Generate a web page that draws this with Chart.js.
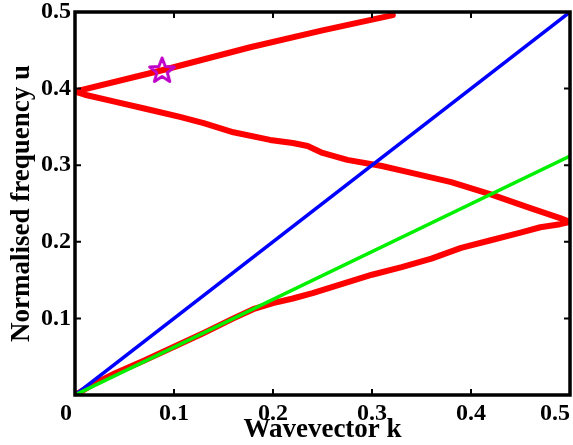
<!DOCTYPE html>
<html>
<head>
<meta charset="utf-8">
<script src="https://cdn.jsdelivr.net/npm/chart.js@4.4.1/dist/chart.umd.min.js"></script>
<style>
  body { margin: 0; background: #fff; }
  canvas { display: block; }
</style>
</head>
<body>
<canvas id="bandChart" width="573" height="445"></canvas>
<script>
// dispersion curve (red): lower branch, back along upper branch, then up again
const redK = [0, 0.02, 0.04, 0.07, 0.10, 0.13, 0.16, 0.18, 0.20, 0.22, 0.24, 0.27, 0.30, 0.33, 0.36, 0.39, 0.42, 0.45, 0.47, 0.49, 0.50,
              0.49, 0.46, 0.42, 0.38, 0.34, 0.31, 0.275, 0.25, 0.235, 0.22, 0.197, 0.16, 0.13, 0.106, 0.07, 0.04, 0.01, 0,
              0.088, 0.177, 0.25, 0.321];
const redU = [0, 0.015, 0.028, 0.045, 0.063, 0.081, 0.100, 0.112, 0.120, 0.126, 0.133, 0.145, 0.157, 0.167, 0.178, 0.192, 0.202, 0.212, 0.219, 0.223, 0.226,
              0.231, 0.244, 0.262, 0.278, 0.290, 0.299, 0.307, 0.316, 0.325, 0.329, 0.333, 0.343, 0.355, 0.363, 0.374, 0.383, 0.392, 0.396,
              0.424, 0.454, 0.476, 0.496];

// light lines
const blueK = [0, 0.5];
const blueU = [0, 0.5];
const greenK = [0, 0.5];
const greenU = [0, 0.312];

// marked point
const starK = [0.088];
const starU = [0.423];

const tickValues = [0, 0.1, 0.2, 0.3, 0.4, 0.5];

const toPoints = (ks, us) => ks.map((k, i) => ({ x: k, y: us[i] }));

// 5-point star outline for the marker
function makeStar() {
  const c = document.createElement('canvas');
  c.width = 34; c.height = 34;
  const g = c.getContext('2d');
  g.beginPath();
  for (let i = 0; i < 10; i++) {
    const r = i % 2 === 0 ? 13 : 5.5;
    const a = -Math.PI / 2 + i * Math.PI / 5;
    const px = 17 + r * Math.cos(a), py = 17 + r * Math.sin(a);
    if (i === 0) g.moveTo(px, py); else g.lineTo(px, py);
  }
  g.closePath();
  g.strokeStyle = '#c000c8';
  g.lineWidth = 3;
  g.lineJoin = 'round';
  g.stroke();
  return c;
}

// box round the plot with inward tick marks
const framePlugin = {
  id: 'frame',
  afterDraw(chart) {
    const { ctx, chartArea: a, scales } = chart;
    ctx.save();
    ctx.strokeStyle = '#000';
    ctx.lineWidth = 2;
    tickValues.forEach(v => {
      const px = scales.x.getPixelForValue(v);
      const py = scales.y.getPixelForValue(v);
      ctx.beginPath();
      ctx.moveTo(px, a.bottom); ctx.lineTo(px, a.bottom - 6);
      ctx.moveTo(px, a.top); ctx.lineTo(px, a.top + 6);
      ctx.moveTo(a.left, py); ctx.lineTo(a.left + 6, py);
      ctx.moveTo(a.right, py); ctx.lineTo(a.right - 6, py);
      ctx.stroke();
    });
    ctx.lineWidth = 3.5;
    ctx.strokeRect(a.left, a.top, a.right - a.left, a.bottom - a.top);
    ctx.restore();
  }
};

const serif = 'Liberation Serif, Times New Roman, serif';
let ctx = document.getElementById('bandChart').getContext('2d');

// end labels sit a little inwards, as in the original figure
function xLabel(v) {
  if (v === 0) return '0   ';
  if (v === 0.5) return '0.5     ';
  return v.toFixed(1);
}

let bandChart = new Chart(ctx, {
  type: 'scatter',
  data: {
    datasets: [
      { data: toPoints(starK, starU), pointStyle: makeStar(), pointRadius: 15, showLine: false, clip: 0, order: 0 },
      { data: toPoints(greenK, greenU), showLine: true, borderColor: '#00f000', borderWidth: 3.5, pointRadius: 0, clip: 0, order: 1 },
      { data: toPoints(blueK, blueU), showLine: true, borderColor: '#0000ff', borderWidth: 3.5, pointRadius: 0, clip: 0, order: 2 },
      { data: toPoints(redK, redU), showLine: true, borderColor: '#ff0000', borderWidth: 6, pointRadius: 0, borderJoinStyle: 'round', borderCapStyle: 'round', clip: 0, order: 3 }
    ]
  },
  options: {
    responsive: false,
    animation: false,
    layout: { autoPadding: false, padding: { top: 12, right: 3, left: 0, bottom: 0 } },
    plugins: { legend: { display: false }, tooltip: { enabled: false } },
    scales: {
      x: {
        type: 'linear', min: 0, max: 0.5,
        afterBuildTicks: s => { s.ticks = tickValues.map(v => ({ value: v })); },
        afterFit: s => { s.height = 50; s.paddingLeft = 0; s.paddingRight = 0; },
        grid: { display: false, drawTicks: false },
        border: { display: false },
        ticks: {
          padding: 4,
          color: '#000',
          font: { family: serif, size: 24, weight: 'bold' },
          callback: xLabel
        },
        title: {
          display: true, text: 'Wavevector k', color: '#000',
          font: { family: serif, size: 27, weight: 'bold', lineHeight: 1.1 },
          padding: { top: 0, bottom: 0 }
        }
      },
      y: {
        type: 'linear', min: 0, max: 0.5,
        afterBuildTicks: s => { s.ticks = tickValues.map(v => ({ value: v })); },
        afterFit: s => { s.width = 75; s.paddingTop = 0; s.paddingBottom = 0; },
        grid: { display: false, drawTicks: false },
        border: { display: false },
        ticks: {
          padding: 4,
          color: '#000',
          font: { family: serif, size: 24, weight: 'bold' },
          callback: v => v === 0 ? null : v.toFixed(1)
        },
        title: {
          display: true, text: 'Normalised frequency u', color: '#000',
          font: { family: serif, size: 27, weight: 'bold', lineHeight: 1.2 },
          padding: { top: 6, bottom: 0 }
        }
      }
    }
  },
  plugins: [framePlugin]
});
</script>
</body>
</html>
